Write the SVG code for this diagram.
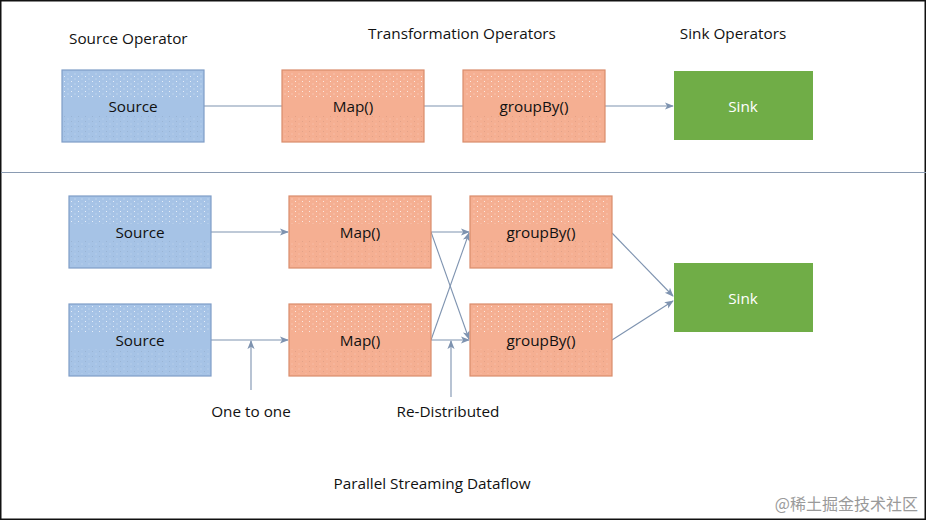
<svg xmlns="http://www.w3.org/2000/svg" width="927" height="521" viewBox="0 0 927 521">
<style>
text{font-family:"Open Sans","Noto Sans",sans-serif;font-size:15.3px;fill:#111}
.lbl{text-anchor:middle}
.nt{text-anchor:middle;dominant-baseline:central}
.blue{fill:#A6C3E6;stroke:#7F9DC7;stroke-width:1.2}
.orange{fill:#F5AF92;stroke:#D98C6C;stroke-width:1.2}
.green{fill:#70AD47}
.tex1{fill:url(#dotsW)}
.tex2{fill:url(#dotsD)}
.conn line{stroke:#7E93B0;stroke-width:1.1;fill:none}
.arr{marker-end:url(#ah)}
.wm{font-family:"Noto Sans CJK SC","Noto Sans",sans-serif;font-size:16px;fill:#9a9a9a}
</style>
<defs>
<marker id="ah" viewBox="0 0 10 10" refX="9" refY="5" markerWidth="9" markerHeight="9" markerUnits="userSpaceOnUse" orient="auto">
<path d="M0,1 L10,5 L0,9 L2.5,5 Z" fill="#7E93B0"/>
</marker>
<pattern id="dotsW" width="7" height="5" patternUnits="userSpaceOnUse">
<rect x="1" y="1" width="1" height="1" fill="#ffffff" opacity="0.7"/>
<rect x="4.5" y="3.5" width="1" height="1" fill="#ffffff" opacity="0.5"/>
</pattern>
<pattern id="dotsD" width="7" height="5" patternUnits="userSpaceOnUse">
<rect x="1" y="1" width="1" height="1" fill="#000000" opacity="0.08"/>
<rect x="4.5" y="3.5" width="1" height="1" fill="#ffffff" opacity="0.3"/>
</pattern>
</defs>
<rect x="0" y="0" width="927" height="521" fill="#ffffff"/>
<rect x="0.75" y="0.75" width="924.5" height="518.5" fill="none" stroke="#111" stroke-width="1.5"/>

<g id="headers">
<text x="69" y="44">Source Operator</text>
<text x="462" y="39" class="lbl">Transformation Operators</text>
<text x="733" y="39" class="lbl">Sink Operators</text>
</g>
<line x1="1" y1="172.5" x2="926" y2="172.5" stroke="#8A9BB2" stroke-width="1.2"/>

<g class="conn" id="connectors">
<line x1="204" y1="106" x2="282" y2="106"/>
<line x1="424" y1="106" x2="463" y2="106"/>
<line x1="605" y1="106" x2="673" y2="106" class="arr"/>
<line x1="211" y1="232" x2="288" y2="232" class="arr"/>
<line x1="211" y1="340" x2="288" y2="340" class="arr"/>
<line x1="431" y1="232" x2="469" y2="232" class="arr"/>
<line x1="431" y1="232" x2="469" y2="339" class="arr"/>
<line x1="431" y1="340" x2="469" y2="340" class="arr"/>
<line x1="431" y1="340" x2="469" y2="233" class="arr"/>
<line x1="612" y1="233" x2="673" y2="296" class="arr"/>
<line x1="612" y1="340" x2="673" y2="301" class="arr"/>
<line x1="251" y1="390" x2="251" y2="341" class="arr"/>
<line x1="451" y1="397" x2="451" y2="341" class="arr"/>
</g>

<g id="t-source">
<rect x="62" y="70" width="142" height="72" class="blue"/>
<rect x="64" y="72" width="138" height="26" class="tex1"/>
<rect x="64" y="115" width="138" height="25" class="tex2"/>
<text x="133" y="106" class="nt">Source</text>
</g>
<g id="t-map">
<rect x="282" y="70" width="142" height="72" class="orange"/>
<rect x="284" y="72" width="138" height="26" class="tex1"/>
<rect x="284" y="115" width="138" height="25" class="tex2"/>
<text x="353" y="106" class="nt">Map()</text>
</g>
<g id="t-groupby">
<rect x="463" y="70" width="142" height="72" class="orange"/>
<rect x="465" y="72" width="138" height="26" class="tex1"/>
<rect x="465" y="115" width="138" height="25" class="tex2"/>
<text x="534" y="106" class="nt">groupBy()</text>
</g>
<g id="t-sink">
<rect x="674" y="71" width="139" height="69" class="green"/>
<text x="743" y="106" class="nt" style="fill:#ffffff">Sink</text>
</g>

<g id="p-source1">
<rect x="69" y="196" width="142" height="72" class="blue"/>
<rect x="71" y="198" width="138" height="26" class="tex1"/>
<rect x="71" y="241" width="138" height="25" class="tex2"/>
<text x="140" y="232" class="nt">Source</text>
</g>
<g id="p-source2">
<rect x="69" y="304" width="142" height="72" class="blue"/>
<rect x="71" y="306" width="138" height="26" class="tex1"/>
<rect x="71" y="349" width="138" height="25" class="tex2"/>
<text x="140" y="340" class="nt">Source</text>
</g>
<g id="p-map1">
<rect x="289" y="196" width="142" height="72" class="orange"/>
<rect x="291" y="198" width="138" height="26" class="tex1"/>
<rect x="291" y="241" width="138" height="25" class="tex2"/>
<text x="360" y="232" class="nt">Map()</text>
</g>
<g id="p-map2">
<rect x="289" y="304" width="142" height="72" class="orange"/>
<rect x="291" y="306" width="138" height="26" class="tex1"/>
<rect x="291" y="349" width="138" height="25" class="tex2"/>
<text x="360" y="340" class="nt">Map()</text>
</g>
<g id="p-groupby1">
<rect x="470" y="196" width="142" height="72" class="orange"/>
<rect x="472" y="198" width="138" height="26" class="tex1"/>
<rect x="472" y="241" width="138" height="25" class="tex2"/>
<text x="541" y="232" class="nt">groupBy()</text>
</g>
<g id="p-groupby2">
<rect x="470" y="304" width="142" height="72" class="orange"/>
<rect x="472" y="306" width="138" height="26" class="tex1"/>
<rect x="472" y="349" width="138" height="25" class="tex2"/>
<text x="541" y="340" class="nt">groupBy()</text>
</g>
<g id="p-sink">
<rect x="674" y="263" width="139" height="69" class="green"/>
<text x="743" y="298" class="nt" style="fill:#ffffff">Sink</text>
</g>

<g id="labels">
<text x="251" y="417" class="lbl">One to one</text>
<text x="448" y="417" class="lbl">Re-Distributed</text>
<text x="432" y="489" class="lbl">Parallel Streaming Dataflow</text>
</g>
<text x="918" y="510" class="wm" text-anchor="end">@稀土掘金技术社区</text>
</svg>
